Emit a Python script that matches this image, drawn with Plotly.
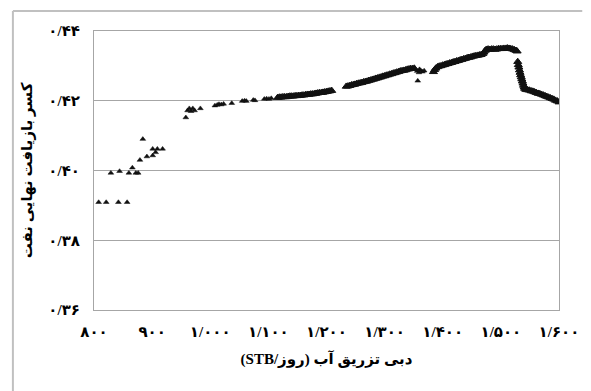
import plotly.graph_objects as go

# ---- data ----
sparse_x = [808, 821, 842, 857, 829, 844, 860, 866, 872, 876, 879, 884, 891, 901, 901, 906, 909, 918,
            958, 961, 964, 967, 970, 973, 983, 1008, 1012, 1015, 1019, 1023, 1037, 1055, 1059, 1062,
            1074, 1077, 1093, 1097, 1101, 1105]
sparse_y = [0.3909, 0.3909, 0.3909, 0.3909, 0.3993, 0.3998, 0.3993, 0.4008, 0.3993, 0.3993, 0.4030,
            0.4090, 0.4040, 0.4043, 0.4062, 0.4052, 0.4062, 0.4062,
            0.4152, 0.4172, 0.4178, 0.4170, 0.4178, 0.4172, 0.4178, 0.4186, 0.4188, 0.4190, 0.4189,
            0.4191, 0.4193, 0.4199, 0.4200, 0.4199, 0.4202, 0.4201, 0.4205, 0.4206, 0.4205, 0.4207]

seg1_x = [1116, 1119, 1122, 1125, 1128, 1131, 1134, 1137, 1140, 1143, 1146, 1149, 1152, 1155,
          1158, 1161, 1164, 1167, 1170, 1173, 1176, 1179, 1182, 1185, 1188, 1191, 1194, 1197,
          1200, 1203, 1206, 1209]
seg1_y = [0.4209, 0.4210, 0.4210, 0.4211, 0.4211, 0.4211, 0.4212, 0.4213, 0.4213, 0.4213, 0.4214,
          0.4214, 0.4215, 0.4215, 0.4216, 0.4216, 0.4217, 0.4218, 0.4218, 0.4219, 0.4219, 0.4220,
          0.4221, 0.4222, 0.4223, 0.4223, 0.4224, 0.4225, 0.4226, 0.4227, 0.4228, 0.4229]

seg2_x = [1234, 1237, 1240, 1243, 1246, 1249, 1252, 1255, 1258, 1261, 1264, 1267, 1270, 1273,
          1276, 1279, 1282, 1285, 1288, 1291, 1294, 1297, 1300, 1303, 1306, 1309, 1312, 1315,
          1318, 1321, 1324, 1327, 1330, 1333, 1336, 1339, 1342, 1345, 1348, 1351]
seg2_y = [0.4241, 0.4242, 0.4243, 0.4245, 0.4246, 0.4247, 0.4249, 0.4250, 0.4251, 0.4252, 0.4254,
          0.4255, 0.4256, 0.4258, 0.4259, 0.4261, 0.4262, 0.4264, 0.4265, 0.4267, 0.4268, 0.4270,
          0.4271, 0.4273, 0.4274, 0.4276, 0.4277, 0.4279, 0.4280, 0.4282, 0.4283, 0.4285, 0.4286,
          0.4287, 0.4288, 0.4290, 0.4291, 0.4292, 0.4292, 0.4293]

cluster_x = [1356, 1359, 1362, 1365, 1368, 1360, 1357]
cluster_y = [0.4285, 0.4281, 0.4287, 0.4283, 0.4286, 0.4290, 0.4257]

seg3_x = [1384, 1386, 1388, 1391, 1394, 1397, 1400, 1403, 1406, 1409, 1412, 1415, 1418, 1421,
          1424, 1427, 1430, 1433, 1436, 1439, 1442, 1445, 1448, 1451, 1454, 1457, 1460, 1463,
          1466, 1469, 1471, 1473, 1475, 1478, 1481, 1484, 1487, 1490, 1493, 1496, 1499, 1502,
          1505, 1508, 1511, 1514, 1517, 1520, 1523, 1526, 1528]
seg3_y = [0.4283, 0.4289, 0.4293, 0.4297, 0.4299, 0.4300, 0.4302, 0.4303, 0.4305, 0.4306, 0.4308,
          0.4309, 0.4311, 0.4312, 0.4314, 0.4315, 0.4317, 0.4318, 0.4320, 0.4321, 0.4323, 0.4324,
          0.4325, 0.4327, 0.4328, 0.4329, 0.4330, 0.4331, 0.4332, 0.4335, 0.4339, 0.4344, 0.4347,
          0.4348, 0.4347, 0.4348, 0.4348, 0.4347, 0.4348, 0.4349, 0.4349, 0.4349, 0.4350, 0.4350,
          0.4351, 0.4350, 0.4349, 0.4348, 0.4346, 0.4344, 0.4342]

drop_x = [1529, 1530, 1531, 1532, 1533, 1534, 1535, 1536, 1537, 1538, 1539, 1540, 1541]
drop_y = [0.4312, 0.4303, 0.4296, 0.4288, 0.4281, 0.4274, 0.4268, 0.4262, 0.4256, 0.4250,
          0.4244, 0.4239, 0.4235]

tail_x = [1543, 1546, 1549, 1552, 1555, 1558, 1561, 1564, 1567, 1570, 1573, 1576, 1579, 1582,
          1585, 1588, 1591, 1594, 1597, 1600]
tail_y = [0.4232, 0.4231, 0.4230, 0.4228, 0.4227, 0.4225, 0.4223, 0.4221, 0.4220, 0.4218,
          0.4216, 0.4214, 0.4212, 0.4210, 0.4208, 0.4206, 0.4204, 0.4201, 0.4199, 0.4196]

x_tickvals = [800, 900, 1000, 1100, 1200, 1300, 1400, 1500, 1600]
x_ticktext = ["۸۰۰", "۹۰۰", "۱/۰۰۰", "۱/۱۰۰", "۱/۲۰۰", "۱/۳۰۰", "۱/۴۰۰", "۱/۵۰۰", "۱/۶۰۰"]
y_tickvals = [0.36, 0.38, 0.40, 0.42, 0.44]
y_ticktext = ["۰/۳۶", "۰/۳۸", "۰/۴۰", "۰/۴۲", "۰/۴۴"]

x_title = "\u202bدبی تزریق آب (روز/STB)\u202c"
y_title = "\u202bکسر بازیافت نهایی نفت\u202c"

dense_x = seg1_x + seg2_x + seg3_x + drop_x + tail_x
dense_y = seg1_y + seg2_y + seg3_y + drop_y + tail_y

FONT = "Liberation Serif, DejaVu Sans, serif"
GRID = "#a6a6a6"
MARK = "#111111"
BORDER = "#c0c0c0"

fig = go.Figure()
fig.add_trace(go.Scatter(
    x=sparse_x + cluster_x, y=sparse_y + cluster_y, mode="markers",
    marker=dict(symbol="triangle-up", size=5, color=MARK, line=dict(width=0.5, color=MARK)),
    showlegend=False,
))
fig.add_trace(go.Scatter(
    x=dense_x, y=dense_y, mode="markers",
    marker=dict(symbol="triangle-up", size=7, color=MARK, line=dict(width=1, color=MARK)),
    showlegend=False,
))

fig.update_layout(
    width=591, height=391,
    margin=dict(l=94, r=21, t=31, b=81),
    paper_bgcolor="white", plot_bgcolor="white",
    font=dict(family=FONT, color="#000000"),
    xaxis=dict(
        range=[800, 1600], tickvals=x_tickvals, ticktext=x_ticktext,
        showgrid=False, zeroline=False,
        showline=True, linecolor=GRID, linewidth=1, mirror=True,
        ticks="", ticklabelstandoff=8,
        tickfont=dict(family=FONT, size=15, color="#000000", weight="bold"),
        title=dict(text=x_title, standoff=14,
                   font=dict(family=FONT, size=15, color="#000000", weight="bold")),
    ),
    yaxis=dict(
        range=[0.36, 0.44], tickvals=y_tickvals, ticktext=y_ticktext,
        showgrid=True, gridcolor=GRID, gridwidth=1, zeroline=False,
        showline=True, linecolor=GRID, linewidth=1, mirror=True,
        ticks="", ticklabelstandoff=10,
        tickfont=dict(family=FONT, size=15, color="#000000", weight="bold"),
        title=dict(text=y_title, standoff=12,
                   font=dict(family=FONT, size=15, color="#000000", weight="bold")),
    ),
    shapes=[
        dict(type="line", xref="paper", yref="paper", x0=-0.1744, x1=1.05, y0=1.0717, y1=1.0717,
             line=dict(color=BORDER, width=2), layer="above"),
        dict(type="line", xref="paper", yref="paper", x0=-0.1744, x1=-0.1744, y0=-0.3, y1=1.0717,
             line=dict(color=BORDER, width=2), layer="above"),
    ],
)

fig.write_html("out.html")
